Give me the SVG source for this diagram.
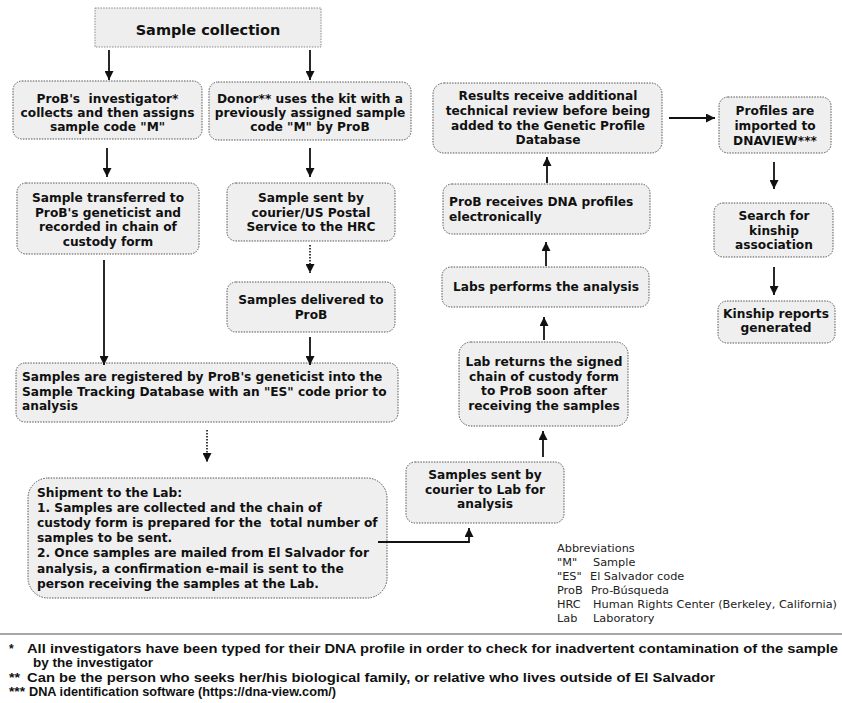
<svg xmlns="http://www.w3.org/2000/svg" width="842" height="703" viewBox="0 0 842 703">
  <style>
    .box { fill: #efefef; stroke: #555; stroke-width: 1; stroke-dasharray: 1.5 1.2; }
    .top { fill: #eeeeee; stroke: #8a8a8a; stroke-width: 1; stroke-dasharray: 1.5 1.2; }
    .t { font-family: "DejaVu Sans", Verdana, sans-serif; font-weight: bold; font-size: 12.2px; fill: #111; }
    .c { text-anchor: middle; }
    .title { font-size: 14.5px; }
    .abbr { font-family: "DejaVu Sans", Verdana, sans-serif; font-size: 11.3px; fill: #222; }
    .fn { font-family: "Liberation Sans", Arial, sans-serif; font-weight: bold; font-size: 13.4px; fill: #111; }
    .star { font-size: 12px; }
    .edge { fill: none; stroke: #111; stroke-width: 1.8; }
    .dot { stroke-dasharray: 1.5 1.5; stroke-width: 1.6; }
  </style>
  <defs>
    <marker id="arrow" viewBox="0 0 10 10" refX="10" refY="5" markerUnits="userSpaceOnUse" markerWidth="10" markerHeight="9" orient="auto">
      <path d="M0,0 L10,5 L0,10 z" fill="#111"/>
    </marker>
  </defs>
  <rect width="842" height="703" fill="#ffffff"/>

  <!-- process nodes -->
  <g id="sample-collection">
    <rect class="top" x="95" y="8" width="226" height="39"/>
    <text class="t c title" x="208" y="35">Sample collection</text>
  </g>
  <g id="investigator">
    <rect class="box" x="13" y="81" width="189" height="58" rx="9"/>
    <text class="t c" x="107.5" y="103" xml:space="preserve"><tspan x="107.5">ProB's  investigator*</tspan><tspan x="107.5" dy="14">collects and then assigns</tspan><tspan x="107.5" dy="14">sample code "M"</tspan></text>
  </g>
  <g id="donor">
    <rect class="box" x="209" y="82" width="202" height="58" rx="9"/>
    <text class="t c" x="310" y="103"><tspan x="310">Donor** uses the kit with a</tspan><tspan x="310" dy="14">previously assigned sample</tspan><tspan x="310" dy="14">code "M" by ProB</tspan></text>
  </g>
  <g id="transferred">
    <rect class="box" x="17" y="183" width="182" height="71" rx="9"/>
    <text class="t c" x="108" y="202"><tspan x="108">Sample transferred to</tspan><tspan x="108" dy="14.7">ProB's geneticist and</tspan><tspan x="108" dy="14.7">recorded in chain of</tspan><tspan x="108" dy="14.7">custody form</tspan></text>
  </g>
  <g id="sent-hrc">
    <rect class="box" x="227" y="183" width="168" height="58" rx="9"/>
    <text class="t c" x="311" y="202"><tspan x="311">Sample sent by</tspan><tspan x="311" dy="14.5">courier/US Postal</tspan><tspan x="311" dy="14.5">Service to the HRC</tspan></text>
  </g>
  <g id="delivered">
    <rect class="box" x="227" y="282" width="168" height="50" rx="9"/>
    <text class="t c" x="311" y="304"><tspan x="311">Samples delivered to</tspan><tspan x="311" dy="14.5">ProB</tspan></text>
  </g>
  <g id="registered">
    <rect class="box" x="16" y="363" width="382" height="59" rx="9"/>
    <text class="t" x="22" y="381"><tspan x="22">Samples are registered by ProB's geneticist into the</tspan><tspan x="22" dy="14.7">Sample Tracking Database with an "ES" code prior to</tspan><tspan x="22" dy="14.7">analysis</tspan></text>
  </g>
  <g id="shipment">
    <rect class="box" x="28" y="478" width="359" height="120" rx="20"/>
    <text class="t" x="37" y="497" xml:space="preserve"><tspan x="37">Shipment to the Lab:</tspan><tspan x="37" dy="15.1">1. Samples are collected and the chain of</tspan><tspan x="37" dy="15.1">custody form is prepared for the  total number of</tspan><tspan x="37" dy="15.1">samples to be sent.</tspan><tspan x="37" dy="15.1">2. Once samples are mailed from El Salvador for</tspan><tspan x="37" dy="15.1">analysis, a confirmation e-mail is sent to the</tspan><tspan x="37" dy="15.1">person receiving the samples at the Lab.</tspan></text>
  </g>
  <g id="sent-lab">
    <rect class="box" x="406" y="462" width="158" height="61" rx="9"/>
    <text class="t c" x="485" y="479"><tspan x="485">Samples sent by</tspan><tspan x="485" dy="14.5">courier to Lab for</tspan><tspan x="485" dy="14.5">analysis</tspan></text>
  </g>
  <g id="lab-returns">
    <rect class="box" x="459" y="342" width="169" height="84" rx="12"/>
    <text class="t c" x="544" y="366"><tspan x="544">Lab returns the signed</tspan><tspan x="544" dy="14.6">chain of custody form</tspan><tspan x="544" dy="14.6">to ProB soon after</tspan><tspan x="544" dy="14.6">receiving the samples</tspan></text>
  </g>
  <g id="analysis">
    <rect class="box" x="442" y="267" width="207" height="40" rx="9"/>
    <text class="t c" x="546" y="291">Labs performs the analysis</text>
  </g>
  <g id="profiles-received">
    <rect class="box" x="443" y="184" width="207" height="50" rx="9"/>
    <text class="t" x="449" y="206"><tspan x="449">ProB receives DNA profiles</tspan><tspan x="449" dy="14.5">electronically</tspan></text>
  </g>
  <g id="review">
    <rect class="box" x="433" y="83" width="229" height="70" rx="11"/>
    <text class="t c" x="548" y="100"><tspan x="548">Results receive additional</tspan><tspan x="548" dy="14.8">technical review before being</tspan><tspan x="548" dy="14.8">added to the Genetic Profile</tspan><tspan x="548" dy="14.8">Database</tspan></text>
  </g>
  <g id="dnaview">
    <rect class="box" x="719" y="97" width="112" height="56" rx="9"/>
    <text class="t c" x="775" y="115"><tspan x="775">Profiles are</tspan><tspan x="775" dy="14.8">imported to</tspan><tspan x="775" dy="14.8">DNAVIEW***</tspan></text>
  </g>
  <g id="kinship-search">
    <rect class="box" x="714" y="203" width="119" height="54" rx="9"/>
    <text class="t c" x="774" y="220"><tspan x="774">Search for</tspan><tspan x="774" dy="14.6">kinship</tspan><tspan x="774" dy="14.6">association</tspan></text>
  </g>
  <g id="kinship-reports">
    <rect class="box" x="718" y="301" width="117" height="42" rx="9"/>
    <text class="t c" x="776" y="318"><tspan x="776">Kinship reports</tspan><tspan x="776" dy="14.4">generated</tspan></text>
  </g>

  <!-- connectors -->
  <g id="connectors">
    <path class="edge" d="M109,50 V80" marker-end="url(#arrow)"/>
    <path class="edge" d="M310,50 V80" marker-end="url(#arrow)"/>
    <path class="edge" d="M107,148 V177" marker-end="url(#arrow)"/>
    <path class="edge" d="M310,148 V177" marker-end="url(#arrow)"/>
    <path class="edge" d="M104,260 V365" marker-end="url(#arrow)"/>
    <path class="edge dot" d="M310,245 V273" marker-end="url(#arrow)"/>
    <path class="edge" d="M310,337 V365" marker-end="url(#arrow)"/>
    <path class="edge dot" d="M207,430 V462" marker-end="url(#arrow)"/>
    <path class="edge" d="M378,542 H469 V528" marker-end="url(#arrow)"/>
    <path class="edge" d="M543,457 V431" marker-end="url(#arrow)"/>
    <path class="edge" d="M544,340 V317" marker-end="url(#arrow)"/>
    <path class="edge" d="M546,266 V242" marker-end="url(#arrow)"/>
    <path class="edge" d="M547,183 V157" marker-end="url(#arrow)"/>
    <path class="edge" d="M669,118 H715" marker-end="url(#arrow)"/>
    <path class="edge" d="M774,162 V189" marker-end="url(#arrow)"/>
    <path class="edge" d="M774,267 V295" marker-end="url(#arrow)"/>
  </g>

  <!-- abbreviations legend -->
  <g id="abbreviations" class="abbr">
    <text x="557" y="552">Abbreviations</text>
    <text x="557" y="566">"M"</text><text x="593" y="566">Sample</text>
    <text x="557" y="580">"ES"</text><text x="590" y="580">El Salvador code</text>
    <text x="557" y="594">ProB</text><text x="591" y="594">Pro-Búsqueda</text>
    <text x="557" y="608">HRC</text><text x="593" y="608">Human Rights Center (Berkeley, California)</text>
    <text x="557" y="622">Lab</text><text x="593" y="622">Laboratory</text>
  </g>

  <!-- footnotes -->
  <line x1="0" y1="634" x2="842" y2="634" stroke="#8a8a8a" stroke-width="1.6"/>
  <g id="footnotes" class="fn">
    <text class="star" x="9" y="653">*</text>
    <text x="27" y="653" textLength="811" lengthAdjust="spacingAndGlyphs">All investigators have been typed for their DNA profile in order to check for inadvertent contamination of the sample</text>
    <text x="33" y="667" textLength="120" lengthAdjust="spacingAndGlyphs">by the investigator</text>
    <text class="star" x="9" y="682" textLength="11" lengthAdjust="spacingAndGlyphs">**</text>
    <text x="27" y="682" textLength="688" lengthAdjust="spacingAndGlyphs">Can be the person who seeks her/his biological family, or relative who lives outside of El Salvador</text>
    <text class="star" x="9" y="696" textLength="16" lengthAdjust="spacingAndGlyphs">***</text>
    <text x="29" y="696" textLength="307" lengthAdjust="spacingAndGlyphs">DNA identification software (https://dna-view.com/)</text>
  </g>
</svg>
